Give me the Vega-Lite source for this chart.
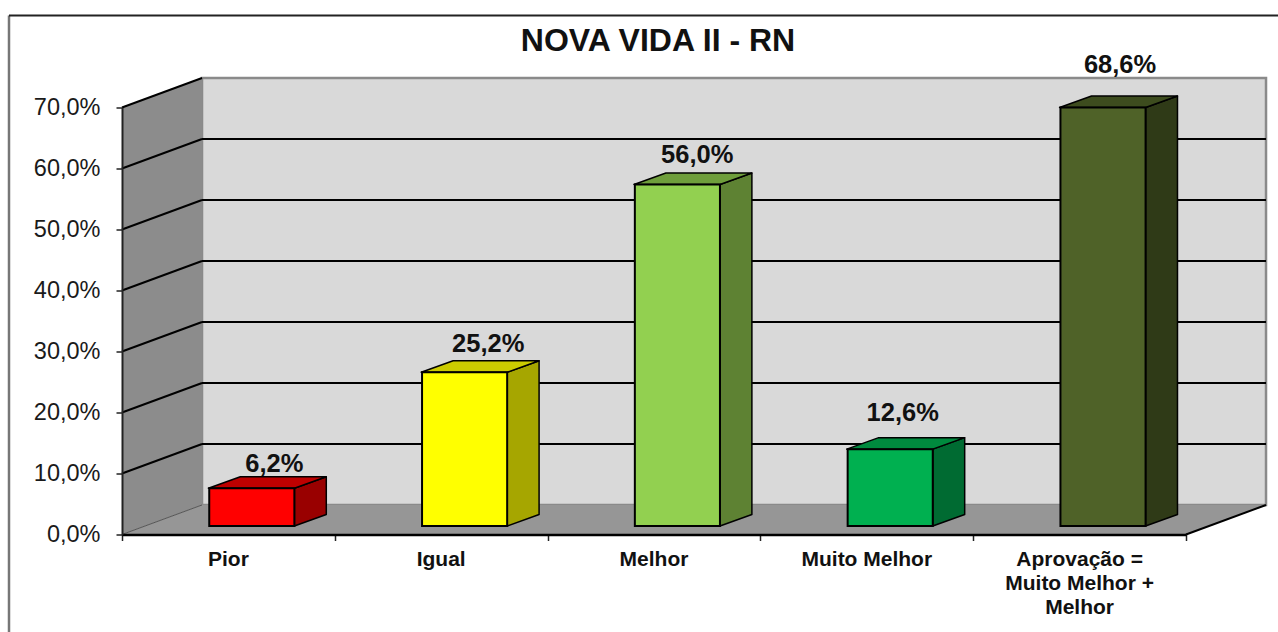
{
"$schema":"https://vega.github.io/schema/vega-lite/v6.json",
"width":1064,"height":427,
"autosize":{"type":"none"},
"padding":{"left":122,"top":107.5,"right":92,"bottom":97.5},
"background":"white",
"title":{"text":"NOVA VIDA II - RN","font":"Liberation Sans","fontSize":32,"fontWeight":"bold","color":"#111111","anchor":"middle","dx":4,"offset":-69,"baseline":"alphabetic"},
"config":{"view":{"stroke":null},"font":"Liberation Sans"},
"datasets":{
"barras":[
{"categoria":"Pior","valor":6.2},
{"categoria":"Igual","valor":25.2},
{"categoria":"Melhor","valor":56.0},
{"categoria":"Muito Melhor","valor":12.6},
{"categoria":"Aprovação =\nMuito Melhor +\nMelhor","valor":68.6}
],
"niveis":[{"nivel":10},{"nivel":20},{"nivel":30},{"nivel":40},{"nivel":50},{"nivel":60},{"nivel":70}],
"fundo":[{"p":0},{"p":1}],
"unico":[{"u":1}]
},
"layer":[
{"data":{"name":"unico"},"transform":[{"calculate":"-0.531","as":"a"},{"calculate":"85.08","as":"b"},{"calculate":"-16","as":"c"}],"mark":{"type":"rule","color":"#777777","strokeWidth":2.5},
 "encoding":{"x":{"field":"a","type":"quantitative","scale":{"domain":[0,5],"nice":false},"axis":{"values":[0,1,2,3,4,5],"labels":false,"title":null,"tickSize":6,"tickColor":"#222222","tickWidth":1.5,"domainColor":"#000000","domainWidth":2.5,"grid":false,"zindex":1}},
 "y":{"field":"b","type":"quantitative","scale":{"domain":[0,70],"nice":false},"axis":{"values":[0,10,20,30,40,50,60,70],"title":null,"labelExpr":"replace(format(datum.value,'.1f'),'.',',')+'%'","labelFontSize":23.5,"labelColor":"#1a1a1a","labelPadding":16,"labelFont":"Liberation Sans","tickSize":6,"tickColor":"#222222","tickWidth":1.5,"domainColor":"#222222","domainWidth":2,"grid":false,"zindex":1}},
 "y2":{"field":"c"}}},
{"data":{"name":"unico"},"transform":[{"calculate":"-0.531","as":"a"},{"calculate":"5.44","as":"a2"},{"calculate":"85.08","as":"b"}],"mark":{"type":"rule","color":"#222222","strokeWidth":2},
 "encoding":{"x":{"field":"a","type":"quantitative"},"x2":{"field":"a2"},"y":{"field":"b","type":"quantitative"}}},
{"data":{"name":"unico"},"transform":[{"calculate":"0.376","as":"a"},{"calculate":"5.376","as":"a2"},{"calculate":"4.84","as":"b"},{"calculate":"74.84","as":"b2"}],"mark":{"type":"rect","color":"#d9d9d9","stroke":"#8a8a8a","strokeWidth":2.5},
 "encoding":{"x":{"field":"a","type":"quantitative"},"x2":{"field":"a2"},"y":{"field":"b","type":"quantitative"},"y2":{"field":"b2"}}},
{"data":{"name":"fundo"},"transform":[{"calculate":"datum.p*0.376","as":"px"},{"calculate":"datum.p*4.84","as":"py"},{"calculate":"70+datum.p*4.84","as":"py2"}],
 "mark":{"type":"area","orient":"vertical","color":"#8c8c8c"},
 "encoding":{"x":{"field":"px","type":"quantitative"},"y":{"field":"py","type":"quantitative"},"y2":{"field":"py2"}}},
{"data":{"name":"fundo"},"transform":[{"calculate":"datum.p*0.376","as":"px"},{"calculate":"5+datum.p*0.376","as":"px2"},{"calculate":"datum.p*4.84","as":"py"}],
 "mark":{"type":"area","orient":"horizontal","color":"#969696"},
 "encoding":{"y":{"field":"py","type":"quantitative"},"x":{"field":"px","type":"quantitative"},"x2":{"field":"px2"}}},
{"data":{"name":"niveis"},"transform":[{"filter":"datum.nivel<70"},{"calculate":"datum.nivel+4.84","as":"yb"},{"calculate":"0.376","as":"a"},{"calculate":"5.376","as":"a2"}],
 "mark":{"type":"rule","color":"#000000","strokeWidth":2.2},
 "encoding":{"x":{"field":"a","type":"quantitative"},"x2":{"field":"a2"},"y":{"field":"yb","type":"quantitative"}}},
{"data":{"name":"niveis"},"transform":[{"calculate":"datum.nivel+4.84","as":"yb"},{"calculate":"0","as":"a"},{"calculate":"0.376","as":"a2"}],
 "mark":{"type":"rule","color":"#000000","strokeWidth":2},
 "encoding":{"x":{"field":"a","type":"quantitative"},"x2":{"field":"a2"},"y":{"field":"nivel","type":"quantitative"},"y2":{"field":"yb"}}},
{"data":{"name":"unico"},"transform":[{"calculate":"5","as":"a"},{"calculate":"5.376","as":"a2"},{"calculate":"0","as":"b"},{"calculate":"4.84","as":"b2"}],"mark":{"type":"rule","color":"#000000","strokeWidth":2},
 "encoding":{"x":{"field":"a","type":"quantitative"},"x2":{"field":"a2"},"y":{"field":"b","type":"quantitative"},"y2":{"field":"b2"}}},
{"data":{"name":"unico"},"transform":[{"calculate":"0","as":"a"},{"calculate":"0.376","as":"a2"},{"calculate":"0","as":"b"},{"calculate":"4.84","as":"b2"}],"mark":{"type":"rule","color":"#555555","strokeWidth":1},
 "encoding":{"x":{"field":"a","type":"quantitative"},"x2":{"field":"a2"},"y":{"field":"b","type":"quantitative"},"y2":{"field":"b2"}}},
{"data":{"name":"barras"},"transform":[{"window":[{"op":"row_number","as":"ordem"}]},{"calculate":"[0,1]","as":"p"},{"flatten":["p"]},
 {"calculate":"datum.ordem-0.5+0.108+0.202+datum.p*0.15","as":"sx"},{"calculate":"1.39+datum.p*1.885","as":"sb"},{"calculate":"1.39+datum.valor+datum.p*1.885","as":"st"}],
 "mark":{"type":"area","orient":"vertical","stroke":"#000000","strokeWidth":1.5,"strokeJoin":"round"},
 "encoding":{"x":{"field":"sx","type":"quantitative"},"y":{"field":"sb","type":"quantitative"},"y2":{"field":"st"},"detail":{"field":"categoria","type":"nominal"},
 "color":{"field":"categoria","type":"nominal","legend":null,"scale":{"domain":["Pior","Igual","Melhor","Muito Melhor","Aprovação =\nMuito Melhor +\nMelhor"],"range":["#990000","#A6A600","#5E8233","#006B32","#2F3A17"]}}}},
{"data":{"name":"barras"},"transform":[{"window":[{"op":"row_number","as":"ordem"}]},{"calculate":"[0,1]","as":"p"},{"flatten":["p"]},
 {"calculate":"datum.ordem-0.5+0.108-0.202+datum.p*0.15","as":"tx"},{"calculate":"datum.ordem-0.5+0.108+0.202+datum.p*0.15","as":"tx2"},{"calculate":"1.39+datum.valor+datum.p*1.885","as":"ty"}],
 "mark":{"type":"area","orient":"horizontal","stroke":"#000000","strokeWidth":1.5,"strokeJoin":"round"},
 "encoding":{"y":{"field":"ty","type":"quantitative"},"x":{"field":"tx","type":"quantitative"},"x2":{"field":"tx2"},"detail":{"field":"categoria","type":"nominal"},
 "color":{"field":"categoria","type":"nominal","legend":null,"scale":{"domain":["Pior","Igual","Melhor","Muito Melhor","Aprovação =\nMuito Melhor +\nMelhor"],"range":["#BE0000","#CCCC00","#6F9E3C","#008A3E","#3D4C1E"]}}}},
{"data":{"name":"barras"},"transform":[{"window":[{"op":"row_number","as":"ordem"}]},
 {"calculate":"datum.ordem-0.5+0.11-0.2","as":"fx"},{"calculate":"datum.ordem-0.5+0.11+0.2","as":"fx2"},{"calculate":"1.39+datum.valor","as":"fy"},{"calculate":"1.39","as":"fb"}],
 "mark":{"type":"rect","stroke":"#000000","strokeWidth":2},
 "encoding":{"x":{"field":"fx","type":"quantitative"},"x2":{"field":"fx2"},"y":{"field":"fb","type":"quantitative"},"y2":{"field":"fy"},
 "color":{"field":"categoria","type":"nominal","legend":null,"scale":{"domain":["Pior","Igual","Melhor","Muito Melhor","Aprovação =\nMuito Melhor +\nMelhor"],"range":["#FF0000","#FFFF00","#92D050","#00B050","#4F6228"]}}}},
{"data":{"name":"barras"},"transform":[{"window":[{"op":"row_number","as":"ordem"}]},
 {"calculate":"datum.ordem-0.5+[0.108,0.113,0.095,0.061,0.082][datum.ordem-1]+0.108","as":"lx"},
 {"calculate":"datum.valor+[5.36,6.03,6.2,7.32,8.37][datum.ordem-1]","as":"ly"},
 {"calculate":"replace(format(datum.valor,'.1f'),'.',',')+'%'","as":"rotulo"}],
 "mark":{"type":"text","font":"Liberation Sans","fontWeight":"bold","fontSize":25.5,"color":"#111111","baseline":"middle","align":"center"},
 "encoding":{"x":{"field":"lx","type":"quantitative"},"y":{"field":"ly","type":"quantitative"},"text":{"field":"rotulo","type":"nominal"}}},
{"data":{"name":"barras"},"transform":[{"window":[{"op":"row_number","as":"ordem"}]},{"calculate":"datum.ordem-0.5","as":"cx"},{"calculate":"0","as":"zero"}],
 "mark":{"type":"text","font":"Liberation Sans","fontWeight":"bold","fontSize":21,"color":"#111111","baseline":"top","align":"center","lineBreak":"\n","lineHeight":24,"dy":14},
 "encoding":{"x":{"field":"cx","type":"quantitative"},"y":{"field":"zero","type":"quantitative"},"text":{"field":"categoria","type":"nominal"}}}
],
"resolve":{"scale":{"color":"independent"}}
}
